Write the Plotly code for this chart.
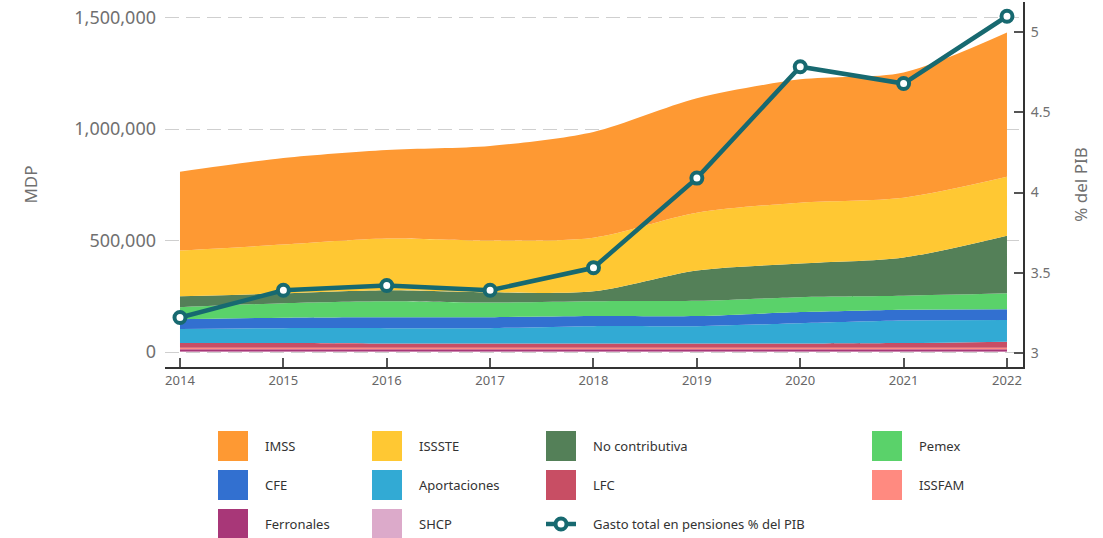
import plotly.graph_objects as go

# ---------------- data ----------------
years = [2014, 2015, 2016, 2017, 2018, 2019, 2020, 2021, 2022]

# MDP (millones de pesos), stacked bottom -> top
shcp = [2500, 2500, 2500, 2500, 2500, 2500, 2500, 2500, 2500]
ferronales = [10000, 10000, 10000, 10000, 10000, 10000, 10000, 10000, 10000]
issfam = [6000, 6000, 6000, 6000, 6000, 6000, 6000, 6000, 6000]
lfc = [21500, 21500, 19500, 19500, 19500, 19500, 19500, 21500, 27500]
aportaciones = [63000, 67000, 69000, 69000, 78000, 78000, 91000, 101000, 97000]
cfe = [44000, 47000, 49000, 49000, 45000, 45000, 50000, 49000, 49000]
pemex = [54000, 65000, 72000, 66000, 67000, 69000, 67000, 62000, 71000]
no_contributiva = [49000, 44000, 49000, 46000, 44000, 136000, 151000, 172000, 259000]
issste = [205000, 219000, 232000, 232000, 241000, 259000, 273000, 268000, 264000]
imss = [353000, 388000, 397000, 424000, 474000, 513000, 553000, 562000, 647000]

gasto_pib = [3.22, 3.39, 3.42, 3.39, 3.53, 4.09, 4.785, 4.68, 5.10]

left_ticks = [0, 500000, 1000000, 1500000]
right_ticks = [3, 3.5, 4, 4.5, 5]
right_ticktext = ["3", "3.5", "4", "4.5", "5"]

# ---------------- styles ----------------
series = [
    ("SHCP", shcp, "#DCAACA"),
    ("Ferronales", ferronales, "#A83778"),
    ("ISSFAM", issfam, "#FF8A80"),
    ("LFC", lfc, "#C84E64"),
    ("Aportaciones", aportaciones, "#32AAD4"),
    ("CFE", cfe, "#3270D0"),
    ("Pemex", pemex, "#5AD26A"),
    ("No contributiva", no_contributiva, "#548058"),
    ("ISSSTE", issste, "#FFC833"),
    ("IMSS", imss, "#FE9933"),
]
color_of = {n: c for n, _, c in series}
line_name = "Gasto total en pensiones % del PIB"
teal = "#176970"
FONT = "Noto Sans"

fig = go.Figure()
for name, vals, col in series:
    fig.add_trace(go.Scatter(
        x=years, y=vals, name=name, stackgroup="one", mode="lines",
        line=dict(width=0, shape="spline", smoothing=0.8, color=col),
        fillcolor=col, showlegend=False, hoverinfo="x+y+name",
    ))

fig.add_trace(go.Scatter(
    x=years, y=gasto_pib, name=line_name, yaxis="y2", mode="lines+markers",
    line=dict(color=teal, width=4.5),
    marker=dict(size=11, color="white", line=dict(color=teal, width=4)),
    showlegend=False,
))

# ---------------- layout ----------------
W, H = 1103, 538
ML, MR, MT, MB = 165, 80, 2, 171
PW, PH = W - ML - MR, H - MT - MB


def px(x):
    return (x - ML) / PW


def py(y):
    return (H - MB - y) / PH


fig.update_layout(
    width=W, height=H,
    margin=dict(l=ML, r=MR, t=MT, b=MB),
    paper_bgcolor="white", plot_bgcolor="white",
    font=dict(family=FONT, color="#666"),
    showlegend=False,
    xaxis=dict(
        range=[2013.855, 2022.155], tickvals=years, ticktext=[str(y) for y in years],
        showgrid=False, zeroline=False, showline=True, linecolor="#333", linewidth=2,
        ticks="inside", ticklen=9, tickwidth=1.5, tickcolor="#555",
        tickfont=dict(size=13, color="#666"),
    ),
    yaxis=dict(
        range=[-67300, 1570000], tickvals=left_ticks, tickformat=",",
        showgrid=True, gridcolor="#cfcfcf", griddash="14px,7px", gridwidth=1,
        zeroline=False, showline=False, ticks="",
        tickfont=dict(size=18, color="#707070"), ticklabelstandoff=8,
        title=dict(text="MDP", font=dict(size=17, color="#707070"), standoff=32),
    ),
    yaxis2=dict(
        overlaying="y", side="right", range=[2.911, 5.189],
        tickvals=right_ticks, ticktext=right_ticktext,
        showgrid=False, zeroline=False, showline=True, linecolor="#333", linewidth=2,
        ticks="inside", ticklen=9, tickwidth=1.5, tickcolor="#555",
        tickfont=dict(size=14, color="#707070"), ticklabelstandoff=3,
        title=dict(text="% del PIB", font=dict(size=17, color="#707070"), standoff=26),
    ),
)

# ---------------- manual legend (grid like the reference) ----------------
legend_rows = [
    ["IMSS", "ISSSTE", "No contributiva", "Pemex"],
    ["CFE", "Aportaciones", "LFC", "ISSFAM"],
    ["Ferronales", "SHCP", line_name],
]
col_x = [218, 372, 546, 872]
row_y = [446, 485, 524]
sw = 30

shapes = []
annotations = []
for r, row in enumerate(legend_rows):
    for c, name in enumerate(row):
        x0 = col_x[c]
        yc = row_y[r]
        if name == line_name:
            shapes.append(dict(type="line", xref="paper", yref="paper",
                               x0=px(x0), x1=px(x0 + sw), y0=py(yc), y1=py(yc),
                               line=dict(color=teal, width=4.5)))
            shapes.append(dict(type="circle", xref="paper", yref="paper",
                               x0=px(x0 + sw / 2 - 5.5), x1=px(x0 + sw / 2 + 5.5),
                               y0=py(yc + 5.5), y1=py(yc - 5.5),
                               fillcolor="white", line=dict(color=teal, width=4)))
        else:
            shapes.append(dict(type="rect", xref="paper", yref="paper",
                               x0=px(x0), x1=px(x0 + sw), y0=py(yc + sw / 2), y1=py(yc - sw / 2),
                               fillcolor=color_of[name], line=dict(width=0)))
        annotations.append(dict(text=name, xref="paper", yref="paper",
                                x=px(x0 + sw + 15), y=py(yc), xanchor="left", yanchor="middle",
                                showarrow=False, font=dict(size=13, color="#333", family=FONT)))

fig.update_layout(shapes=shapes, annotations=annotations)

fig.write_html(
    "out.html",
    config={"displayModeBar": False},
    post_script="document.body.style.margin='0px';document.body.style.overflow='hidden';",
)
